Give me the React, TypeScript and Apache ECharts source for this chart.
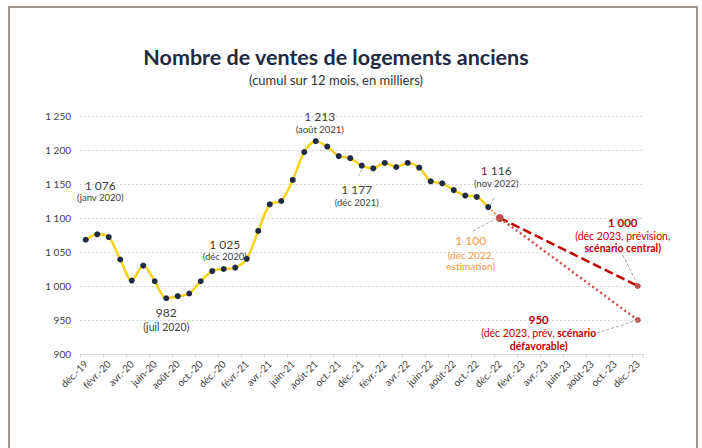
import React, { useEffect, useRef } from "react";
import * as echarts from "echarts";

const categories = [
  "déc.-19", "janv.-20", "févr.-20", "mars-20", "avr.-20", "mai-20", "juin-20", "juil.-20", "août-20", "sept.-20", "oct.-20", "nov.-20",
  "déc.-20", "janv.-21", "févr.-21", "mars-21", "avr.-21", "mai-21", "juin-21", "juil.-21", "août-21", "sept.-21", "oct.-21", "nov.-21",
  "déc.-21", "janv.-22", "févr.-22", "mars-22", "avr.-22", "mai-22", "juin-22", "juil.-22", "août-22", "sept.-22", "oct.-22", "nov.-22",
  "déc.-22", "janv.-23", "févr.-23", "mars-23", "avr.-23", "mai-23", "juin-23", "juil.-23", "août-23", "sept.-23", "oct.-23", "nov.-23",
  "déc.-23",
];

// Observed monthly values, déc-19 .. nov-22
const sales = [
  1068, 1076, 1072, 1039, 1008, 1030, 1007, 982, 985, 989, 1007, 1022,
  1025, 1027, 1040, 1081, 1120, 1125, 1156, 1197, 1213, 1205, 1191, 1188,
  1177, 1173, 1181, 1175, 1181, 1174, 1154, 1151, 1141, 1133, 1131, 1116,
];
const estimateDec22 = 1100;
const centralDec23 = 1000;
const unfavorableDec23 = 950;

const yMin = 900;
const yMax = 1250;
const yStep = 50;

const FONT = "Lato";

const fmtThousands = (v: number) =>
  v >= 1000 ? `${Math.floor(v / 1000)} ${String(v % 1000).padStart(3, "0")}` : String(v);

export default function App() {
  const ref = useRef<HTMLDivElement>(null);

  useEffect(() => {
    if (!ref.current) return;
    const chart = echarts.init(ref.current, null, { renderer: "svg" });
    const n = categories.length;
    const lastObs = sales.length - 1;
    const estIdx = sales.length;
    const endIdx = n - 1;

    const salesData = categories.map((_, i) => (i < sales.length ? sales[i] : null));
    const estData = categories.map((_, i) =>
      i === lastObs
        ? sales[lastObs]
        : i === estIdx
        ? { value: estimateDec22, symbol: "circle", symbolSize: 8, itemStyle: { color: "#C0504D" } }
        : null
    );
    const centralData = categories.map((_, i) =>
      i === estIdx
        ? estimateDec22
        : i === endIdx
        ? { value: centralDec23, symbol: "circle", symbolSize: 6, itemStyle: { color: "#C0504D" } }
        : null
    );
    const unfavData = categories.map((_, i) =>
      i === estIdx
        ? estimateDec22
        : i === endIdx
        ? { value: unfavorableDec23, symbol: "circle", symbolSize: 6, itemStyle: { color: "#C0504D" } }
        : null
    );

    chart.setOption({
      animation: false,
      grid: { left: 80, right: 58.5, top: 116, bottom: 94, containLabel: false },
      xAxis: {
        type: "category",
        data: categories,
        boundaryGap: true,
        axisLine: { lineStyle: { color: "#D9D9D9", width: 1 } },
        axisTick: { show: true, interval: 1, length: 4, lineStyle: { color: "#D9D9D9" } },
        axisLabel: {
          interval: 1,
          rotate: 45,
          fontFamily: FONT,
          fontSize: 10,
          color: "#404040",
          margin: 8,
        },
      },
      yAxis: {
        type: "value",
        min: yMin,
        max: yMax,
        interval: yStep,
        axisLine: { show: false },
        axisTick: { show: false },
        splitLine: { lineStyle: { color: "#D9D9D9", type: [2, 2], width: 1 } },
        axisLabel: {
          formatter: (v: number) => fmtThousands(v),
          fontFamily: FONT,
          fontSize: 10,
          color: "#404040",
          margin: 9,
        },
      },
      series: [
        {
          name: "central",
          type: "line",
          data: centralData,
          connectNulls: true,
          symbol: "none",
          showSymbol: true,
          lineStyle: { color: "#C00000", width: 2.5, type: [9, 4] },
          z: 3,
        },
        {
          name: "défavorable",
          type: "line",
          data: unfavData,
          connectNulls: true,
          symbol: "none",
          showSymbol: true,
          lineStyle: { color: "#C0504D", width: 2.5, type: [2, 3] },
          z: 3,
        },
        {
          name: "estimation",
          type: "line",
          data: estData,
          connectNulls: true,
          symbol: "none",
          showSymbol: true,
          lineStyle: { color: "#F79646", width: 2, type: [2, 2] },
          z: 4,
        },
        {
          name: "ventes",
          type: "line",
          data: salesData,
          smooth: 0.3,
          symbol: "circle",
          symbolSize: 6,
          showSymbol: true,
          itemStyle: { color: "#1F2A44" },
          lineStyle: { color: "#F7D117", width: 2.5 },
          z: 5,
        },
      ],
    });

    const px = (idx: number, v: number) =>
      chart.convertToPixel({ xAxisIndex: 0, yAxisIndex: 0 }, [idx, v]) as number[];

    const gray = "#404040";
    const red = "#C00000";
    const orange = "#F79646";

    type Line = { text?: string; rich?: any; dy: number; size: number; bold?: boolean; color: string };
    type Ann = { idx: number; v: number; dx: number; lines: Line[]; leader?: [number, number, number, number] };

    const annIdx = (v: number) => sales.indexOf(v);
    const anns: Ann[] = [
      {
        idx: annIdx(1076), v: 1076, dx: 3,
        lines: [
          { text: fmtThousands(1076), dy: -49, size: 12, color: gray },
          { text: "(janv 2020)", dy: -37, size: 9.5, color: gray },
        ],
      },
      {
        idx: annIdx(982), v: 982, dx: 0,
        lines: [
          { text: "982", dy: 14, size: 12, color: gray },
          { text: "(juil 2020)", dy: 29, size: 10.5, color: gray },
        ],
      },
      {
        idx: annIdx(1025), v: 1025, dx: 1,
        lines: [
          { text: fmtThousands(1025), dy: -25, size: 12, color: gray },
          { text: "(déc 2020)", dy: -13, size: 9.5, color: gray },
        ],
      },
      {
        idx: annIdx(1213), v: 1213, dx: 4,
        lines: [
          { text: fmtThousands(1213), dy: -25, size: 12, color: gray },
          { text: "(août 2021)", dy: -12, size: 9.5, color: gray },
        ],
      },
      {
        idx: annIdx(1177), v: 1177, dx: -5,
        lines: [
          { text: fmtThousands(1177), dy: 24, size: 12, color: gray },
          { text: "(déc 2021)", dy: 37, size: 9.5, color: gray },
        ],
        leader: [0, 4, -3, 10],
      },
      {
        idx: annIdx(1116), v: 1116, dx: 8,
        lines: [
          { text: fmtThousands(1116), dy: -37, size: 12, color: gray },
          { text: "(nov 2022)", dy: -24, size: 9.5, color: gray },
        ],
        leader: [2, -2, 6.5, -11],
      },
      {
        idx: estIdx, v: estimateDec22, dx: -29,
        lines: [
          { text: fmtThousands(estimateDec22), dy: 22, size: 12, color: orange },
          { text: "(déc 2022,", dy: 37, size: 10, color: orange },
          { text: "estimation)", dy: 48, size: 10, color: orange },
        ],
        leader: [-27, 13, -4, 1],
      },
      {
        idx: endIdx, v: centralDec23, dx: -15,
        lines: [
          { text: fmtThousands(centralDec23), dy: -64, size: 11.5, bold: true, color: red },
          { text: "(déc 2023, prévision,", dy: -50, size: 10.5, color: red },
          { text: "scénario central)", dy: -38, size: 10.5, bold: true, color: red },
        ],
        leader: [-15, -31, -1, -3],
      },
      {
        idx: endIdx, v: unfavorableDec23, dx: -99,
        lines: [
          { text: String(unfavorableDec23), dy: -1, size: 11.5, bold: true, color: red },
          {
            rich: "{n|(déc 2023, prév, }{b|scénario}",
            dy: 13, size: 10.5, color: red,
          },
          { text: "défavorable)", dy: 26, size: 10.5, bold: true, color: red },
        ],
        leader: [-41, 13, 0, 0],
      },
    ];

    const graphics: any[] = [
      {
        type: "rect",
        shape: { x: 9, y: 7, width: 688, height: 470 },
        style: { fill: "none", stroke: "#9E958D", lineWidth: 2 },
        silent: true,
      },
      {
        type: "text",
        x: 336,
        y: 57,
        style: {
          text: "Nombre de ventes de logements anciens",
          fontFamily: FONT,
          fontSize: 21.5,
          fontWeight: "bold",
          fill: "#1F2A44",
          align: "center",
          verticalAlign: "middle",
        },
      },
      {
        type: "text",
        x: 336,
        y: 80,
        style: {
          text: "(cumul sur 12 mois, en milliers)",
          fontFamily: FONT,
          fontSize: 13,
          fill: "#333333",
          align: "center",
          verticalAlign: "middle",
        },
      },
    ];

    anns.forEach((a) => {
      const [x, y] = px(a.idx, a.v);
      if (a.leader) {
        const [x1, y1, x2, y2] = a.leader;
        graphics.push({
          type: "line",
          shape: { x1: x + x1, y1: y + y1, x2: x + x2, y2: y + y2 },
          style: { stroke: "#A6A6A6", lineWidth: 1, lineDash: [3, 2] },
          z: 10,
        });
      }
      a.lines.forEach((l) => {
        const style: any = {
          fontFamily: FONT,
          fontSize: l.size,
          fontWeight: l.bold ? "bold" : "normal",
          fill: l.color,
          align: "center",
          verticalAlign: "middle",
        };
        if (l.rich) {
          style.text = l.rich;
          style.rich = {
            n: { fontFamily: FONT, fontSize: l.size, fill: l.color, color: l.color },
            b: { fontFamily: FONT, fontSize: l.size, fontWeight: "bold", fill: l.color, color: l.color },
          };
        } else {
          style.text = l.text;
        }
        graphics.push({ type: "text", x: x + a.dx, y: y + l.dy, style, z: 10 });
      });
    });

    chart.setOption({ graphic: graphics });

    return () => chart.dispose();
  }, []);

  return (
    <div
      ref={ref}
      style={{ position: "fixed", left: 0, top: 0, width: 702, height: 448, background: "#FFFFFF" }}
    />
  );
}
